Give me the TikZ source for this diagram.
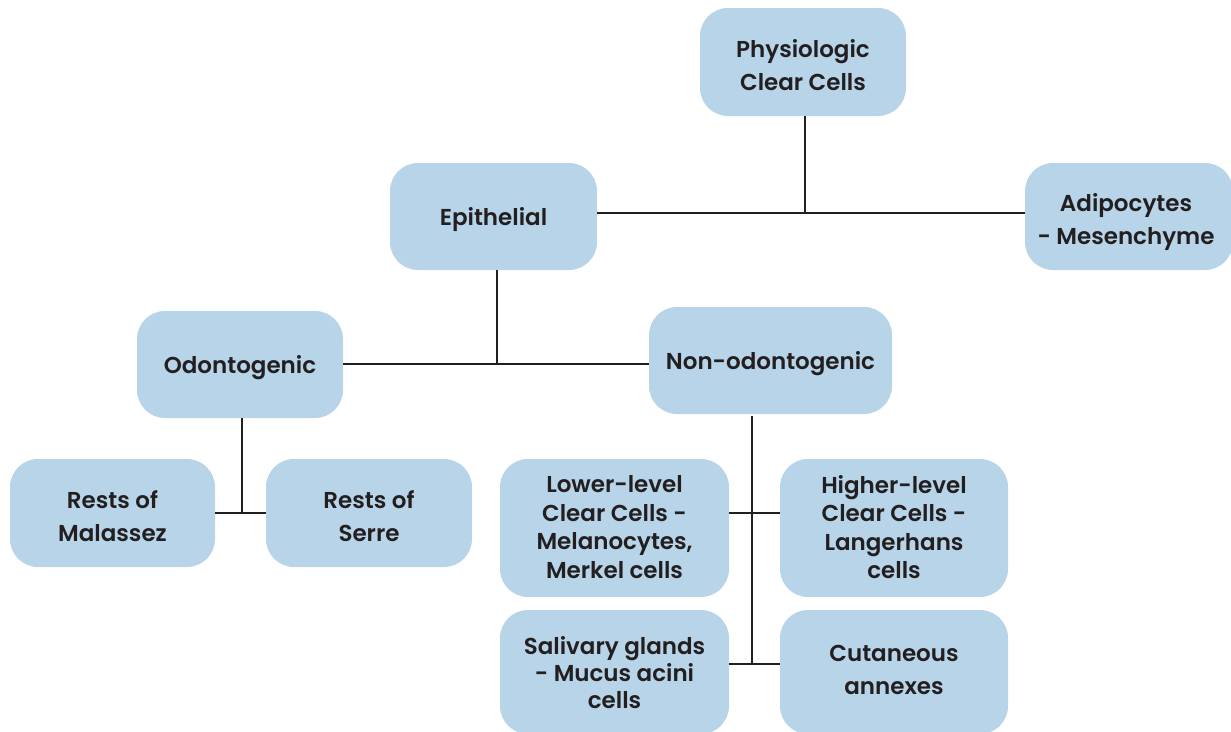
\documentclass[tikz,border=0pt]{standalone}
\usepackage{fontspec}
\setmainfont{Poppins SemiBold}
\definecolor{boxblue}{HTML}{B7D4E8}
\definecolor{txt}{HTML}{231F20}
\begin{document}
\begin{tikzpicture}[x=1pt,y=-1pt,
  cbox/.style={fill=boxblue,draw=none,rounded corners=28pt,inner sep=0pt},
  wide/.style={align=center,text=txt,yshift=-3.5pt,font=\fontsize{23}{33}\selectfont},
  tight/.style={align=center,text=txt,yshift=1pt,font=\fontsize{23}{28.5}\selectfont},
  tighter/.style={align=center,text=txt,yshift=-1pt,font=\fontsize{23}{27}\selectfont},
  conn/.style={draw=txt,line width=2.6pt}]
\useasboundingbox (0,0) rectangle (1231,731);
\node[cbox,minimum width=206pt,minimum height=108pt,label={[wide]center:{Physiologic\\Clear Cells}}] (phys) at (803,62) {};
\node[cbox,minimum width=207pt,minimum height=107pt,label={[wide]center:{Epithelial}}] (epi) at (493.5,216.5) {};
\node[cbox,minimum width=208pt,minimum height=107pt,label={[wide,yshift=-2pt,xshift=-3pt]center:{Adipocytes\\- Mesenchyme}}] (adi) at (1129,216.5) {};
\node[cbox,minimum width=206pt,minimum height=107pt,label={[wide]center:{Odontogenic}}] (odo) at (240,364.5) {};
\node[cbox,minimum width=243pt,minimum height=107pt,label={[wide]center:{Non-odontogenic}}] (non) at (770.5,360.5) {};
\node[cbox,minimum width=205pt,minimum height=108pt,label={[wide]center:{Rests of\\Malassez}}] (mal) at (112.5,513) {};
\node[cbox,minimum width=206pt,minimum height=108pt,label={[wide]center:{Rests of\\Serre}}] (ser) at (369,513) {};
\node[cbox,minimum width=229pt,minimum height=138pt,label={[tight]center:{Lower-level\\Clear Cells -\\Melanocytes,\\Merkel cells}}] (low) at (614.5,528) {};
\node[cbox,minimum width=228pt,minimum height=138pt,label={[tight]center:{Higher-level\\Clear Cells -\\Langerhans\\cells}}] (hig) at (894,528) {};
\node[cbox,minimum width=229pt,minimum height=124pt,label={[tighter]center:{Salivary glands\\- Mucus acini\\cells}}] (sal) at (614.5,672) {};
\node[cbox,minimum width=228pt,minimum height=124pt,label={[wide,yshift=6pt]center:{Cutaneous\\annexes}}] (cut) at (894,672) {};
\coordinate (vt) at (752,416);
\coordinate (vb) at (752,664);
\coordinate (hl) at (0,513);
\draw[conn] (epi.east |- 0,213) -- (adi.west |- 0,213);
\draw[conn] (phys.south -| 805,0) -- (805,213);
\draw[conn] (epi.south -| 497,0) -- (497,364);
\draw[conn] (odo.east |- 0,364) -- (non.west |- 0,364);
\draw[conn] (odo.south -| 242,0) -- (242,513);
\draw[conn] (mal.east |- hl) -- (ser.west |- hl);
\draw[conn] (vt) -- (vb);
\draw[conn] (low.east |- hl) -- (hig.west |- hl);
\draw[conn] (sal.east |- vb) -- (cut.west |- vb);
\end{tikzpicture}
\end{document}
